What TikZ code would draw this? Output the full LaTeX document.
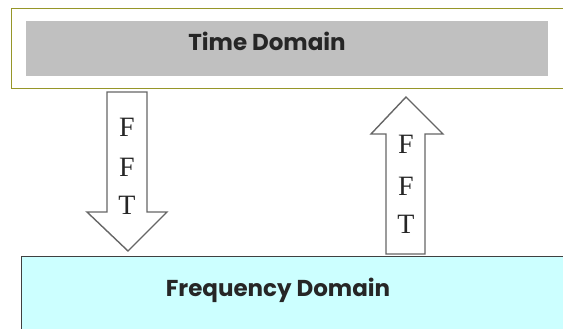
\documentclass[tikz,border=0pt]{standalone}
\usepackage{fontspec}
\setmainfont{Liberation Serif}
\newfontfamily\gothic{Poppins}
\begin{document}
\begin{tikzpicture}[x=1pt,y=-1pt,
  boxtext/.style={font=\gothic\bfseries\fontsize{23}{26}\selectfont, text=black!85},
  blockarrow/.style={draw=black!60, line width=1.4pt, fill=white, line join=miter},
  fftletter/.style={font=\fontsize{28}{30}\selectfont, text=black!85}]
\useasboundingbox (0,0) rectangle (563,329);
% Time domain box
\node[draw={rgb,255:red,150;green,150;blue,40}, line width=1.3pt, fill=white, minimum width=560pt, minimum height=80pt, anchor=north west, inner sep=0pt] (tdouter) at (11,8) {};
\node[fill={rgb,255:red,192;green,192;blue,192}, minimum width=522pt, minimum height=55pt, anchor=north west, inner sep=0pt] (tdinner) at (26,21) {};
\node[boxtext] (tdtext) at (267,41) {Time Domain};
% Frequency domain box
\node[draw=black!75, line width=1.2pt, fill={rgb,255:red,204;green,255;blue,255}, minimum width=560pt, minimum height=90pt, anchor=north west, inner sep=0pt] (fdbox) at (21,256) {};
\node[boxtext] (fdtext) at (278,290) {Frequency Domain};
% Down arrow (FFT)
\draw[blockarrow] (107,92) -- (147,92) -- (147,212) -- (167,212) -- (128,251) -- (87,212) -- (107,212) -- cycle;
\node[fftletter] (d1) at (127,127) {F};
\node[fftletter] (d2) at (127,167) {F};
\node[fftletter] (d3) at (127,205) {T};
% Up arrow (IFFT)
\draw[blockarrow] (386,254) -- (425,254) -- (425,134) -- (443,134) -- (406,97) -- (371,134) -- (386,134) -- cycle;
\node[fftletter] (u1) at (406,144) {F};
\node[fftletter] (u2) at (406,186) {F};
\node[fftletter] (u3) at (406,224) {T};
\end{tikzpicture}
\end{document}
